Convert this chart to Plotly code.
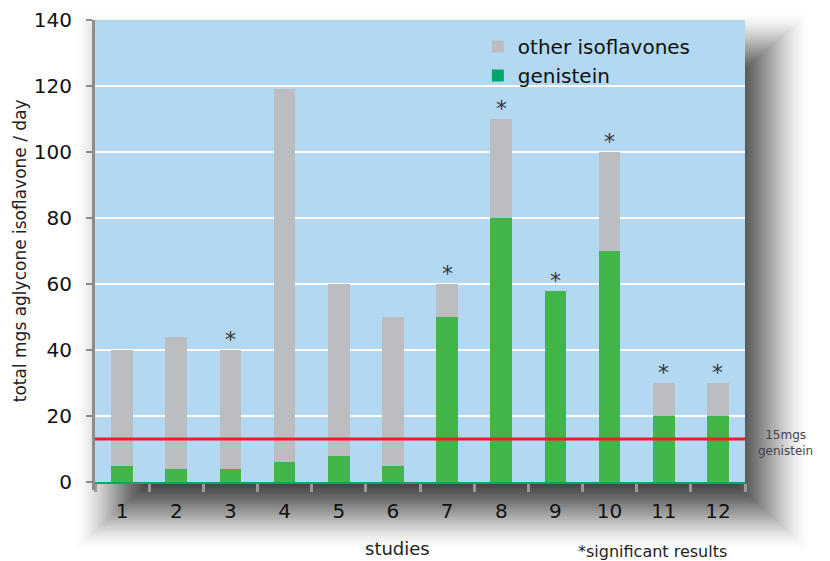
import plotly.graph_objects as go

studies = ["1", "2", "3", "4", "5", "6", "7", "8", "9", "10", "11", "12"]
totals = [40, 44, 40, 119, 60, 50, 60, 110, 58, 100, 30, 30]
genistein = [5, 4, 4, 6, 8, 5, 50, 80, 58, 70, 20, 20]
other = [t - g for t, g in zip(totals, genistein)]
significant = [False, False, True, False, False, False, True, True, True, True, True, True]
threshold = 13
y_ticks = [0, 20, 40, 60, 80, 100, 120, 140]

FONT = "DejaVu Sans"
GREEN_BAR = "#42b549"
GREEN_LEG = "#00a867"
GREY = "#bcbdc0"
BLUE_BG = "#b3d8f1"

fig = go.Figure()
fig.add_trace(go.Bar(x=studies, y=genistein, marker=dict(color=GREEN_BAR, line=dict(width=0)),
                     width=0.4, showlegend=False, hoverinfo="y"))
fig.add_trace(go.Bar(x=studies, y=other, marker=dict(color=GREY, line=dict(width=0)),
                     width=0.4, showlegend=False, hoverinfo="y"))
# legend entries
fig.add_trace(go.Scatter(x=[None], y=[None], mode="markers", name="other isoflavones",
                         marker=dict(symbol="square", size=14, color=GREY)))
fig.add_trace(go.Scatter(x=[None], y=[None], mode="markers", name="genistein",
                         marker=dict(symbol="square", size=14, color=GREEN_LEG)))

# threshold line
fig.add_trace(go.Scatter(x=[-0.5, 11.5], y=[threshold, threshold], mode="lines",
                         line=dict(color="#e8202a", width=3), showlegend=False,
                         hoverinfo="skip", xaxis="x2"))

# soft drop shadow built from stacked translucent rectangles
shapes = []
W, H = 650.0, 462.0
off_x, off_y = 22, 30
Rx, Ry = 45, 40
N = 36
Dmax = 0.75
T_prev = 1.0
for k in range(N):
    t = (k + 1) / N
    D = Dmax * (3 * t * t - 2 * t ** 3)
    T = 1 - D
    a = 1 - T / T_prev
    T_prev = T
    f = 1 - 2 * k / (N - 1)  # outermost first
    sx, sy = Rx * f, Ry * f
    shapes.append(dict(type="rect", xref="paper", yref="paper", layer="below",
                       x0=(off_x - sx) / W, x1=1 + (off_x + sx) / W,
                       y0=-(off_y + sy) / H, y1=1 - (off_y - sy) / H,
                       fillcolor="black", opacity=max(a, 0.0), line=dict(width=0)))
shapes.append(dict(type="rect", xref="paper", yref="paper", layer="below",
                   x0=0, x1=1, y0=0, y1=1, fillcolor=BLUE_BG, line=dict(width=0)))
# y-axis line small extension below the baseline
shapes.append(dict(type="line", xref="paper", yref="paper", layer="above",
                   x0=-1.5 / W, x1=-1.5 / W, y0=0, y1=-8 / H,
                   line=dict(color="#8c8c8c", width=3)))

annotations = []
for i, (t, sig) in enumerate(zip(totals, significant)):
    if sig:
        annotations.append(dict(x=i, y=t, text="*", showarrow=False, yshift=-4,
                                xanchor="center", yanchor="bottom",
                                font=dict(family=FONT, size=22, color="#333333")))
annotations += [
    dict(xref="paper", yref="paper", x=0.466, y=-0.145, text="studies", showarrow=False,
         xanchor="center", yanchor="middle",
         font=dict(family=FONT, size=18, color="#222222")),
    dict(xref="paper", yref="paper", x=0.858, y=-0.151, text="*significant results", showarrow=False,
         xanchor="center", yanchor="middle",
         font=dict(family=FONT, size=16, color="#222222")),
    dict(xref="paper", yref="paper", x=1.062, y=0.084, text="15mgs<br>genistein", showarrow=False,
         xanchor="center", yanchor="middle",
         font=dict(family=FONT, size=12, color="#444444")),
    dict(xref="paper", yref="paper", x=-0.115, y=0.5, text="total mgs aglycone isoflavone / day",
         showarrow=False, textangle=-90, xanchor="center", yanchor="middle",
         font=dict(family=FONT, size=17, color="#222222")),
]

fig.update_layout(
    width=822, height=553,
    margin=dict(l=87, r=85, t=12, b=79),
    paper_bgcolor="white", plot_bgcolor="rgba(0,0,0,0)",
    barmode="stack", bargap=0.6,
    font=dict(family=FONT, color="#111111"),
    shapes=shapes, annotations=annotations,
    legend=dict(x=0.589, y=0.985, xanchor="left", yanchor="top", bgcolor="rgba(0,0,0,0)",
                traceorder="normal",
                font=dict(family=FONT, size=20, color="#111111"), itemsizing="constant",
                tracegroupgap=0, itemwidth=30),
    xaxis=dict(type="category", range=[-0.5, 11.5], showgrid=False, showline=True,
               linecolor="#00a867", linewidth=2, ticks="outside", tickson="boundaries",
               ticklen=8, tickwidth=3, tickcolor="#999999", automargin=False,
               tickfont=dict(family=FONT, size=20, color="#111111"), ticklabelstandoff=10),
    xaxis2=dict(overlaying="x", range=[-0.5, 11.5], visible=False),
    yaxis=dict(range=[0, 140], tickvals=y_ticks, showgrid=True, gridcolor="white", gridwidth=2,
               showline=True, linecolor="#8c8c8c", linewidth=3, ticks="outside", ticklen=6,
               tickwidth=2, tickcolor="#8c8c8c", zeroline=False, automargin=False,
               tickfont=dict(family=FONT, size=20, color="#111111"), ticklabelstandoff=10),
)

fig.write_html("out.html")
